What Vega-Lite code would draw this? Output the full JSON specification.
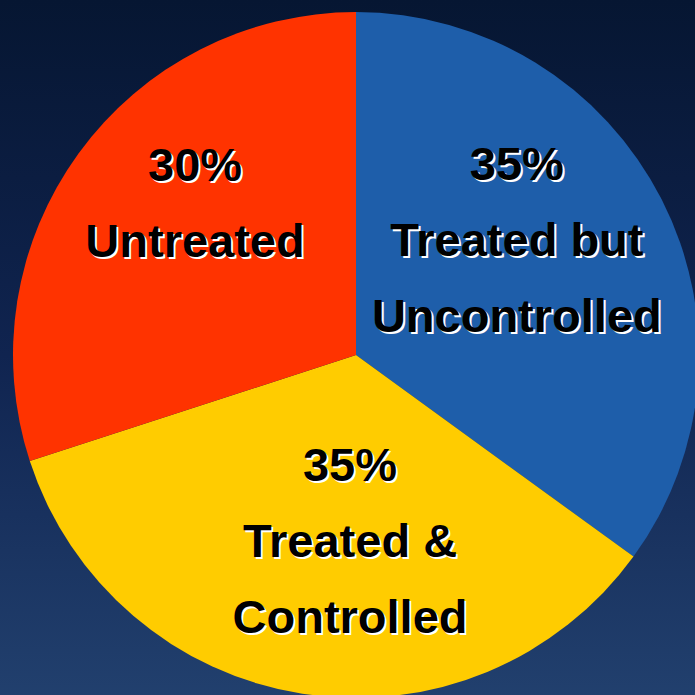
{
  "$schema": "https://vega.github.io/schema/vega-lite/v6.json",
  "width": 712,
  "height": 710,
  "padding": 0,
  "autosize": {"type": "none"},
  "background": "#0c1c40",
  "view": {
    "stroke": null,
    "fill": {
      "gradient": "linear", "x1": 0, "y1": 0, "x2": 0, "y2": 1,
      "stops": [
        {"offset": 0, "color": "#061632"},
        {"offset": 0.5, "color": "#102450"},
        {"offset": 1, "color": "#22416f"}
      ]
    }
  },
  "data": {
    "values": [
      {"category": "Treated but Uncontrolled", "share": 35, "order": 1, "label": "35%\nTreated but\nUncontrolled"},
      {"category": "Treated & Controlled", "share": 35, "order": 2, "label": "35%\nTreated &\nControlled"},
      {"category": "Untreated", "share": 30, "order": 3, "label": "30%\nUntreated"}
    ]
  },
  "encoding": {
    "theta": {"field": "share", "type": "quantitative", "stack": true},
    "order": {"field": "order", "type": "quantitative", "sort": "ascending"}
  },
  "layer": [
    {
      "mark": {"type": "arc", "radius": 343},
      "encoding": {
        "color": {
          "field": "category", "type": "nominal", "legend": null,
          "scale": {
            "domain": ["Treated but Uncontrolled", "Treated & Controlled", "Untreated"],
            "range": ["#1e5eaa", "#ffcc00", "#ff3300"]
          }
        }
      }
    },
    {
      "mark": {"type": "text", "radius": 248, "thetaOffset": -0.394, "dx": 2, "dy": 2, "fill": "#ffffff", "font": "Liberation Sans", "fontWeight": "bold", "fontSize": 47, "lineBreak": "\n", "lineHeight": 76, "align": "center", "baseline": "middle"},
      "encoding": {"text": {"condition": {"test": "datum.category === 'Treated but Uncontrolled'", "field": "label"}, "value": ""}}
    },
    {
      "mark": {"type": "text", "radius": 248, "thetaOffset": -0.394, "fill": "#000000", "font": "Liberation Sans", "fontWeight": "bold", "fontSize": 47, "lineBreak": "\n", "lineHeight": 76, "align": "center", "baseline": "middle"},
      "encoding": {"text": {"condition": {"test": "datum.category === 'Treated but Uncontrolled'", "field": "label"}, "value": ""}}
    },
    {
      "mark": {"type": "text", "radius": 112, "thetaOffset": -0.1035, "dx": 2, "dy": 2, "fill": "#ffffff", "font": "Liberation Sans", "fontWeight": "bold", "fontSize": 47, "lineBreak": "\n", "lineHeight": 76, "align": "center", "baseline": "middle"},
      "encoding": {"text": {"condition": {"test": "datum.category === 'Treated & Controlled'", "field": "label"}, "value": ""}}
    },
    {
      "mark": {"type": "text", "radius": 112, "thetaOffset": -0.1035, "fill": "#000000", "font": "Liberation Sans", "fontWeight": "bold", "fontSize": 47, "lineBreak": "\n", "lineHeight": 76, "align": "center", "baseline": "middle"},
      "encoding": {"text": {"condition": {"test": "datum.category === 'Treated & Controlled'", "field": "label"}, "value": ""}}
    },
    {
      "mark": {"type": "text", "radius": 247.5, "thetaOffset": 0.2344, "dx": 2, "dy": 2, "fill": "#ffffff", "font": "Liberation Sans", "fontWeight": "bold", "fontSize": 47, "lineBreak": "\n", "lineHeight": 76, "align": "center", "baseline": "middle"},
      "encoding": {"text": {"condition": {"test": "datum.category === 'Untreated'", "field": "label"}, "value": ""}}
    },
    {
      "mark": {"type": "text", "radius": 247.5, "thetaOffset": 0.2344, "fill": "#000000", "font": "Liberation Sans", "fontWeight": "bold", "fontSize": 47, "lineBreak": "\n", "lineHeight": 76, "align": "center", "baseline": "middle"},
      "encoding": {"text": {"condition": {"test": "datum.category === 'Untreated'", "field": "label"}, "value": ""}}
    }
  ]
}
